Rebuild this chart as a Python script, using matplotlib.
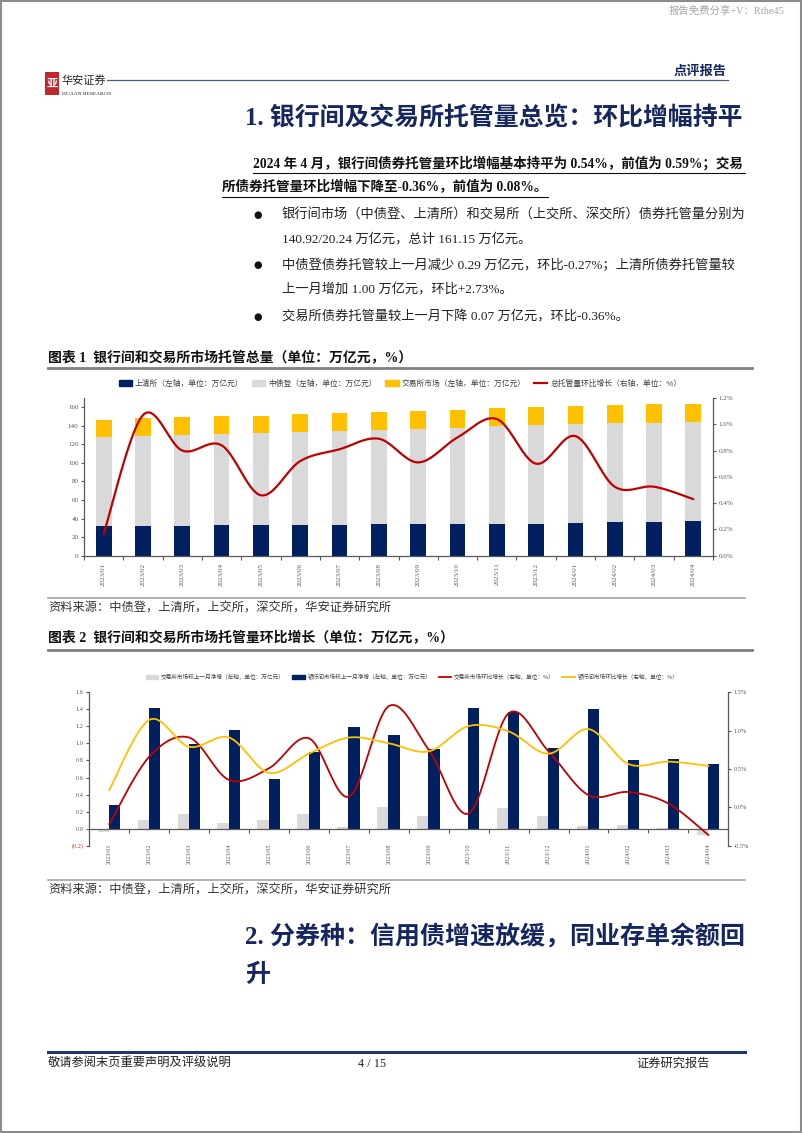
import numpy as np
import matplotlib
matplotlib.use("Agg")
import matplotlib.pyplot as plt
from matplotlib.lines import Line2D
from matplotlib.patches import Rectangle, Patch
from matplotlib.ticker import FuncFormatter, FixedLocator

# ---------------- data ----------------
months = ['2023/01', '2023/02', '2023/03', '2023/04', '2023/05', '2023/06', '2023/07', '2023/08',
          '2023/09', '2023/10', '2023/11', '2023/12', '2024/01', '2024/02', '2024/03', '2024/04']

# Chart 1 (万亿元 / %)
shqs = [31.7, 32.4, 32.4, 33.1, 33.1, 33.1, 33.5, 33.8, 33.8, 33.8, 34.2, 34.5, 35.6, 36.3, 36.7, 37.7]
zzd = [95.9, 97.0, 98.1, 98.4, 99.2, 100.3, 100.6, 101.4, 102.5, 104.2, 105.3, 106.1, 106.4, 106.4, 106.7, 106.4]
jys = [18.7, 19.1, 18.7, 19.1, 18.7, 19.0, 19.4, 19.7, 19.7, 19.4, 19.7, 20.1, 19.7, 20.1, 20.1, 19.8]
total_growth = [0.165, 1.07, 0.80, 0.84, 0.46, 0.72, 0.81, 0.89, 0.71, 0.90, 1.04, 0.70, 0.91, 0.525, 0.525, 0.43]

# Chart 2
jys_inc = [-0.039, 0.105, 0.172, 0.066, 0.098, 0.172, 0.023, 0.258, 0.144, -0.008, 0.242, 0.144, 0.035, 0.043, 0.010, -0.074]
yhj_inc = [0.277, 1.42, 0.995, 1.16, 0.58, 0.894, 1.19, 1.097, 0.937, 1.41, 1.37, 0.95, 1.405, 0.80, 0.823, 0.757]
jys_growth = [-0.217, 0.66, 0.91, 0.357, 0.51, 0.90, 0.14, 1.32, 0.75, -0.08, 1.226, 0.73, 0.16, 0.20, 0.05, -0.36]
yhj_growth = [0.226, 1.14, 0.79, 0.91, 0.45, 0.70, 0.91, 0.835, 0.73, 1.06, 0.99, 0.70, 1.02, 0.565, 0.596, 0.54]

legend1 = ['上清所（左轴，单位：万亿元）', '中债登（左轴，单位：万亿元）',
           '交易所市场（左轴，单位：万亿元）', '总托管量环比增长（右轴，单位：%）']
legend2 = ['交易所市场较上一月净增（左轴，单位：万亿元）', '银行间市场较上一月净增（左轴，单位：万亿元）',
           '交易所市场环比增长（右轴，单位：%）', '银行间市场环比增长（右轴，单位：%）']

# ---------------- style ----------------
NAVY = '#002060'
GRAY = '#D9D9D9'
GOLD = '#FFC000'
RED = '#C00000'
TXTNAVY = '#16265E'
AXC = '#595959'
CJK = ['Liberation Serif', 'Noto Sans CJK SC']
SERIF = ['Liberation Serif', 'DejaVu Serif']
plt.rcParams['font.family'] = ['Noto Sans CJK SC', 'DejaVu Sans']

W, H = 802, 1133
fig = plt.figure(figsize=(W / 100, H / 100), dpi=100)


def ftext(x, y, s, **kw):
    kw.setdefault('va', 'center')
    return fig.text(x / W, 1 - y / H, s, **kw)


def fline(x0, x1, y, **kw):
    fig.add_artist(Line2D([x0 / W, x1 / W], [1 - y / H, 1 - y / H], transform=fig.transFigure, **kw))


def smooth(xv, yv, n=24):
    pts = np.column_stack([np.asarray(xv, float), np.asarray(yv, float)])
    P = np.vstack([pts[0], pts, pts[-1]])
    out = []
    t = np.linspace(0, 1, n)[:, None]
    for i in range(len(pts) - 1):
        p0, p1, p2, p3 = P[i], P[i + 1], P[i + 2], P[i + 3]
        c1 = p1 + (p2 - p0) / 6
        c2 = p2 - (p3 - p1) / 6
        seg = (1 - t) ** 3 * p1 + 3 * (1 - t) ** 2 * t * c1 + 3 * (1 - t) * t ** 2 * c2 + t ** 3 * p2
        out.append(seg if i == 0 else seg[1:])
    return np.vstack(out)


# ---------------- page frame / header ----------------
fig.add_artist(Rectangle((0.001, 0.001), 0.998, 0.998, transform=fig.transFigure,
                         fill=False, edgecolor='#8C8C8C', lw=1.5))
ftext(785, 11, '报告免费分享+V：Rthe45', ha='right', fontsize=7.5, color='#A6A6A6', family=CJK)

fig.add_artist(Rectangle((45 / W, 1 - 95 / H), 14 / W, 23 / H, transform=fig.transFigure,
                         facecolor='#C0272D', edgecolor='none'))
ftext(52, 83.5, '亚', ha='center', fontsize=8, color='white', weight='bold')
ftext(62, 80, '华安证券', ha='left', fontsize=8, color='#222222')
ftext(62, 94, 'HUAAN RESEARCH', ha='left', fontsize=3.9, color='#222222', family=SERIF)
fline(107, 728, 80, color='#4A5F7F', lw=0.9)
ftext(727, 71, '点评报告', ha='right', fontsize=9.5, color=TXTNAVY, weight='bold')

ftext(245, 118, '1. 银行间及交易所托管量总览：环比增幅持平', ha='left', fontsize=17.9,
      color=TXTNAVY, weight='bold', family=CJK)

# bold paragraph
ftext(253, 163, '2024 年 4 月，银行间债券托管量环比增幅基本持平为 0.54%，前值为 0.59%；交易',
      ha='left', fontsize=9.75, weight='bold', family=CJK, color='#111111')
ftext(222, 187, '所债券托管量环比增幅下降至-0.36%，前值为 0.08%。',
      ha='left', fontsize=9.75, weight='bold', family=CJK, color='#111111')
fline(253, 745, 173, color='#111111', lw=0.8)
fline(222, 548, 197, color='#111111', lw=0.8)

bullets = [(215, '银行间市场（中债登、上清所）和交易所（上交所、深交所）债券托管量分别为', True),
           (239, '140.92/20.24 万亿元，总计 161.15 万亿元。', False),
           (265, '中债登债券托管较上一月减少 0.29 万亿元，环比-0.27%；上清所债券托管量较', True),
           (289, '上一月增加 1.00 万亿元，环比+2.73%。', False),
           (317, '交易所债券托管量较上一月下降 0.07 万亿元，环比-0.36%。', True)]
for yy, s, dot in bullets:
    if dot:
        ftext(258, yy, '●', ha='center', fontsize=7, family=['DejaVu Sans'], color='#111111')
    ftext(282, yy, s, ha='left', fontsize=9.55, family=CJK, color='#222222')

# ---------------- chart 1 ----------------
ftext(48, 357, '图表 1  银行间和交易所市场托管总量（单位：万亿元，%）', ha='left', fontsize=10,
      weight='bold', family=CJK, color='#111111')
fline(48, 752, 368, color='#7F7F7F', lw=2)

x = np.arange(len(months))
ax1 = fig.add_axes([84 / W, 1 - 555.7 / H, (713 - 84) / W, (555.7 - 398) / H])
base2 = np.add(shqs, zzd)
ax1.bar(x, shqs, 0.4, color=NAVY, zorder=2)
ax1.bar(x, zzd, 0.4, bottom=shqs, color=GRAY, zorder=2)
ax1.bar(x, jys, 0.4, bottom=base2, color=GOLD, zorder=2)
ax1.set_xlim(-0.5, len(months) - 0.5)
ax1.set_ylim(0, 170)
ax1.set_yticks(np.arange(0, 161, 20))
ax1.set_xticks(x)
ax1.set_xticklabels(months, rotation=90, family=SERIF, fontsize=5, color=AXC)
ax1.set_xticks(np.arange(-0.5, len(months), 1), minor=True)
ax1.tick_params(axis='x', which='major', length=0, pad=5)
ax1.tick_params(axis='x', which='minor', length=3, direction='out', color=AXC, width=0.8)
ax1.tick_params(axis='y', length=2.5, direction='out', color=AXC, width=0.8, labelsize=5, labelcolor=AXC, pad=1.5)
for lab in ax1.get_yticklabels():
    lab.set_family(SERIF)
for sp in ['top', 'right']:
    ax1.spines[sp].set_visible(False)
for sp in ['left', 'bottom']:
    ax1.spines[sp].set_color(AXC)
    ax1.spines[sp].set_linewidth(0.9)
ax1.patch.set_alpha(0)

ax1r = ax1.twinx()
ax1r.set_ylim(0, 1.2)
ax1r.set_yticks(np.arange(0, 1.21, 0.2))
ax1r.yaxis.set_major_formatter(FuncFormatter(lambda v, p: f'{v:.1f}%'))
ax1r.tick_params(axis='y', length=2.5, direction='out', color=AXC, width=0.8, labelsize=5, labelcolor=AXC, pad=1.5)
for lab in ax1r.get_yticklabels():
    lab.set_family(SERIF)
for sp in ['top', 'left', 'bottom']:
    ax1r.spines[sp].set_visible(False)
ax1r.spines['right'].set_color(AXC)
ax1r.spines['right'].set_linewidth(0.9)
s1 = smooth(x, total_growth)
ax1r.plot(s1[:, 0], s1[:, 1], color=RED, lw=1.6, solid_capstyle='round')

h1 = [Patch(color=NAVY), Patch(color=GRAY), Patch(color=GOLD), Line2D([], [], color=RED, lw=1.6)]
fig.legend(h1, legend1, loc='center', bbox_to_anchor=(400 / W, 1 - 384 / H), ncol=4, frameon=False,
           prop={'family': 'Noto Sans CJK SC', 'size': 5.6}, labelcolor='#404040',
           handlelength=1.7, handleheight=0.8, columnspacing=1.1, handletextpad=0.4)

fline(48, 745, 598, color='#A6A6A6', lw=1.2)
ftext(48, 608, '资料来源：中债登，上清所，上交所，深交所，华安证券研究所', ha='left', fontsize=8.8,
      family=CJK, color='#333333')

# ---------------- chart 2 ----------------
ftext(48, 638, '图表 2  银行间和交易所市场托管量环比增长（单位：万亿元，%）', ha='left', fontsize=10,
      weight='bold', family=CJK, color='#111111')
fline(48, 752, 650, color='#7F7F7F', lw=2)

ax2 = fig.add_axes([89.3 / W, 1 - 845.7 / H, (728.3 - 89.3) / W, (845.7 - 692.3) / H])
ax2.bar(x - 0.15, jys_inc, 0.28, color=GRAY, zorder=2)
ax2.bar(x + 0.13, yhj_inc, 0.28, color=NAVY, zorder=2)
ax2.set_xlim(-0.5, len(months) - 0.5)
ax2.set_ylim(-0.2, 1.6)
yt2 = np.round(np.arange(-0.2, 1.61, 0.2), 1)
ax2.yaxis.set_major_locator(FixedLocator(yt2))
ax2.yaxis.set_major_formatter(FuncFormatter(lambda v, p: f'({abs(v):.1f})' if v < -1e-9 else f'{abs(v):.1f}'))
ax2.tick_params(axis='y', length=2.5, direction='out', color=AXC, width=0.8, labelsize=4.5, labelcolor=AXC, pad=1.5)
ax2.spines['bottom'].set_position(('data', 0))
ax2.set_xticks(x)
ax2.set_xticklabels(months, rotation=90, family=SERIF, fontsize=4.5, color=AXC)
ax2.set_xticks(np.arange(-0.5, len(months), 1), minor=True)
ax2.tick_params(axis='x', which='major', length=0, pad=11)
ax2.tick_params(axis='x', which='minor', length=3, direction='out', color=AXC, width=0.8)
fig.canvas.draw()
for lab in ax2.get_yticklabels():
    lab.set_family(SERIF)
    if lab.get_text().startswith('('):
        lab.set_color('#E0302A')
for sp in ['top', 'right']:
    ax2.spines[sp].set_visible(False)
for sp in ['left', 'bottom']:
    ax2.spines[sp].set_color(AXC)
    ax2.spines[sp].set_linewidth(0.9)
ax2.patch.set_alpha(0)

ax2r = ax2.twinx()
ax2r.set_ylim(-0.5, 1.5)
ax2r.set_yticks(np.arange(-0.5, 1.51, 0.5))
ax2r.yaxis.set_major_formatter(FuncFormatter(lambda v, p: f'{v:.1f}%'))
ax2r.tick_params(axis='y', length=2.5, direction='out', color=AXC, width=0.8, labelsize=4.5, labelcolor=AXC, pad=1.5)
for lab in ax2r.get_yticklabels():
    lab.set_family(SERIF)
for sp in ['top', 'left', 'bottom']:
    ax2r.spines[sp].set_visible(False)
ax2r.spines['right'].set_color(AXC)
ax2r.spines['right'].set_linewidth(0.9)
s2 = smooth(x, jys_growth)
s3 = smooth(x, yhj_growth)
ax2r.plot(s2[:, 0], s2[:, 1], color=RED, lw=1.3)
ax2r.plot(s3[:, 0], s3[:, 1], color=GOLD, lw=1.3)

h2 = [Patch(color=GRAY), Patch(color=NAVY), Line2D([], [], color=RED, lw=1.3), Line2D([], [], color=GOLD, lw=1.3)]
fig.legend(h2, legend2, loc='center', bbox_to_anchor=(412 / W, 1 - 677 / H), ncol=4, frameon=False,
           prop={'family': 'Noto Sans CJK SC', 'size': 4.1}, labelcolor='#404040',
           handlelength=2.2, handleheight=0.8, columnspacing=1.3, handletextpad=0.5)

fline(48, 745, 880, color='#A6A6A6', lw=1.2)
ftext(48, 890, '资料来源：中债登，上清所，上交所，深交所，华安证券研究所', ha='left', fontsize=8.8,
      family=CJK, color='#333333')

# ---------------- section 2 title ----------------
ftext(245, 937, '2. 分券种：信用债增速放缓，同业存单余额回', ha='left', fontsize=18,
      color=TXTNAVY, weight='bold', family=CJK)
ftext(245, 975, '升', ha='left', fontsize=18, color=TXTNAVY, weight='bold', family=CJK)

# ---------------- footer ----------------
fline(48, 745, 1052, color='#1F3864', lw=2.2)
ftext(48, 1064, '敬请参阅末页重要声明及评级说明', ha='left', fontsize=8.8, family=CJK, color='#222222')
ftext(372, 1064, '4 / 15', ha='center', fontsize=8.8, family=CJK, color='#222222')
ftext(710, 1064, '证券研究报告', ha='right', fontsize=8.8, family=CJK, color='#222222')

fig.savefig('out.png', dpi=100)
